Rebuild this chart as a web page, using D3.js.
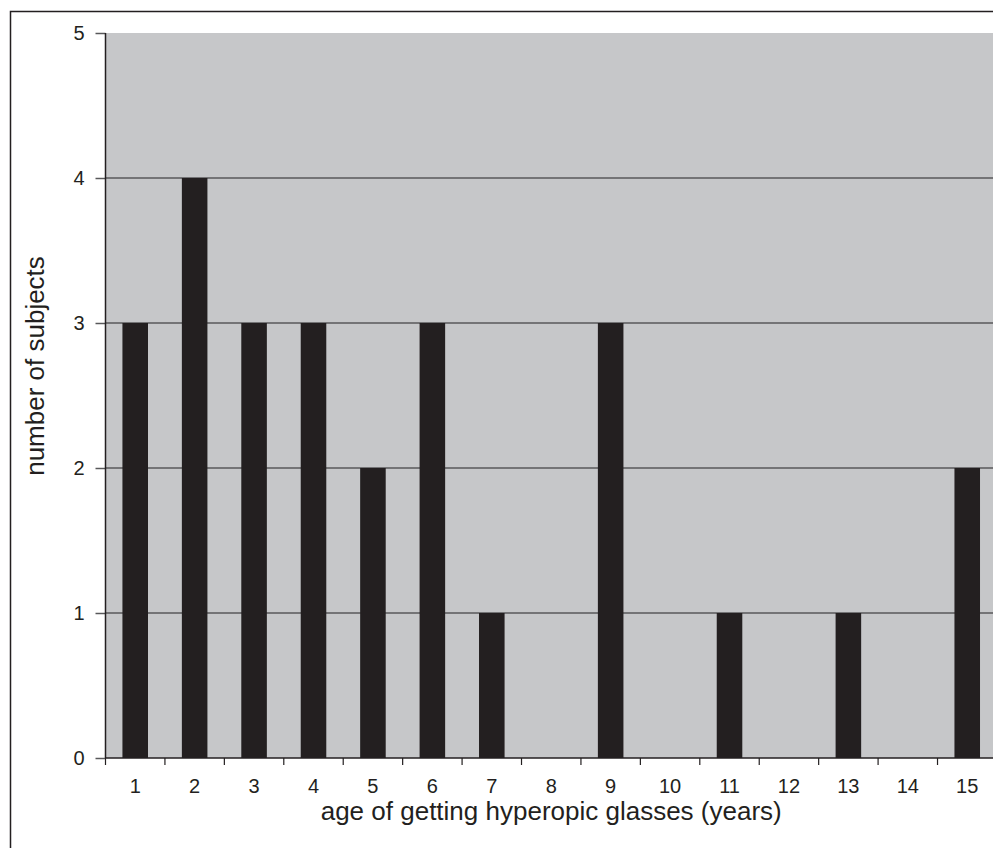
<!DOCTYPE html>
<html>
<head>
<meta charset="utf-8">
<script src="https://cdn.jsdelivr.net/npm/d3@7"></script>
<style>
  body { margin: 0; background: #fff; }
  text { font-family: "Liberation Sans", Arial, sans-serif; fill: #231f20; }
</style>
</head>
<body>
<div id="chart"></div>
<script>
// data
const ages = ['1', '2', '3', '4', '5', '6', '7', '8', '9', '10', '11', '12', '13', '14', '15'];
const subjects = [3, 4, 3, 3, 2, 3, 1, 0, 3, 0, 1, 0, 1, 0, 2];
const yTicks = [0, 1, 2, 3, 4, 5];

const width = 993, height = 848;
const margin = { top: 33, left: 105.5 };
const bandW = 59.43;
const innerW = bandW * ages.length;
const innerH = 758 - margin.top;
const fontFam = '"Liberation Sans", Arial, sans-serif';

const svg = d3.select('#chart').append('svg')
    .attr('width', width)
    .attr('height', height);

// outer frame (cropped at right/bottom)
svg.append('rect')
    .attr('x', 10.5).attr('y', 11.5)
    .attr('width', 1200).attr('height', 1000)
    .attr('fill', 'none')
    .attr('stroke', '#231f20')
    .attr('stroke-width', 1.5);

const chart = svg.append('g')
    .attr('transform', `translate(${margin.left},${margin.top})`);

const x = d3.scaleBand().domain(ages).range([0, innerW]).paddingInner(0.57).paddingOuter(0.285);
const xTicks = d3.scaleBand().domain(ages).range([0, innerW]);
const y = d3.scaleLinear().domain([0, 5]).range([innerH, 0]);

// plot background
chart.append('rect')
    .attr('width', innerW).attr('height', innerH)
    .attr('fill', '#c6c7c9');

// gridlines
chart.selectAll('.grid')
    .data(yTicks.filter(d => d > 0 && d < 5))
    .join('line')
    .attr('class', 'grid')
    .attr('x1', 0).attr('x2', innerW)
    .attr('y1', d => y(d)).attr('y2', d => y(d))
    .attr('stroke', '#58585a')
    .attr('stroke-width', 1.5);

// bars
chart.selectAll('.bar')
    .data(subjects)
    .join('rect')
    .attr('class', 'bar')
    .attr('x', (d, i) => x(ages[i]))
    .attr('width', x.bandwidth())
    .attr('y', d => y(d))
    .attr('height', d => innerH - y(d))
    .attr('fill', '#231f20');

// y axis
const yAxis = d3.axisLeft(y).tickValues(yTicks).tickFormat(d3.format('d')).tickSize(10).tickPadding(11);
const yG = chart.append('g').call(yAxis);
yG.select('.domain').remove();
yG.selectAll('.tick line').attr('stroke', '#58585a').attr('stroke-width', 1.5);
yG.selectAll('.tick text')
    .attr('font-size', 20)
    .attr('font-family', fontFam)
    .attr('fill', '#231f20');
chart.append('line')
    .attr('x1', 0).attr('x2', 0).attr('y1', 0).attr('y2', innerH)
    .attr('stroke', '#231f20').attr('stroke-width', 1.5);

// x axis
const xG = chart.append('g').attr('transform', `translate(0,${innerH})`);
xG.append('line')
    .attr('x1', 0).attr('x2', innerW)
    .attr('stroke', '#231f20').attr('stroke-width', 1.5);
xG.selectAll('.xtick')
    .data(ages)
    .join('line')
    .attr('class', 'xtick')
    .attr('x1', d => xTicks(d)).attr('x2', d => xTicks(d))
    .attr('y1', 0).attr('y2', 7)
    .attr('stroke', '#231f20').attr('stroke-width', 1.2);
xG.selectAll('.xlabel')
    .data(ages)
    .join('text')
    .attr('class', 'xlabel')
    .attr('x', d => xTicks(d) + xTicks.bandwidth() / 2)
    .attr('y', 35)
    .attr('text-anchor', 'middle')
    .attr('font-size', 20)
    .text(d => d);

// axis titles
svg.append('text')
    .attr('x', margin.left + innerW / 2).attr('y', 820)
    .attr('text-anchor', 'middle')
    .attr('font-size', 26)
    .text('age of getting hyperopic glasses (years)');

svg.append('text')
    .attr('transform', 'translate(44,366) rotate(-90)')
    .attr('text-anchor', 'middle')
    .attr('font-size', 26)
    .text('number of subjects');
</script>
</body>
</html>
